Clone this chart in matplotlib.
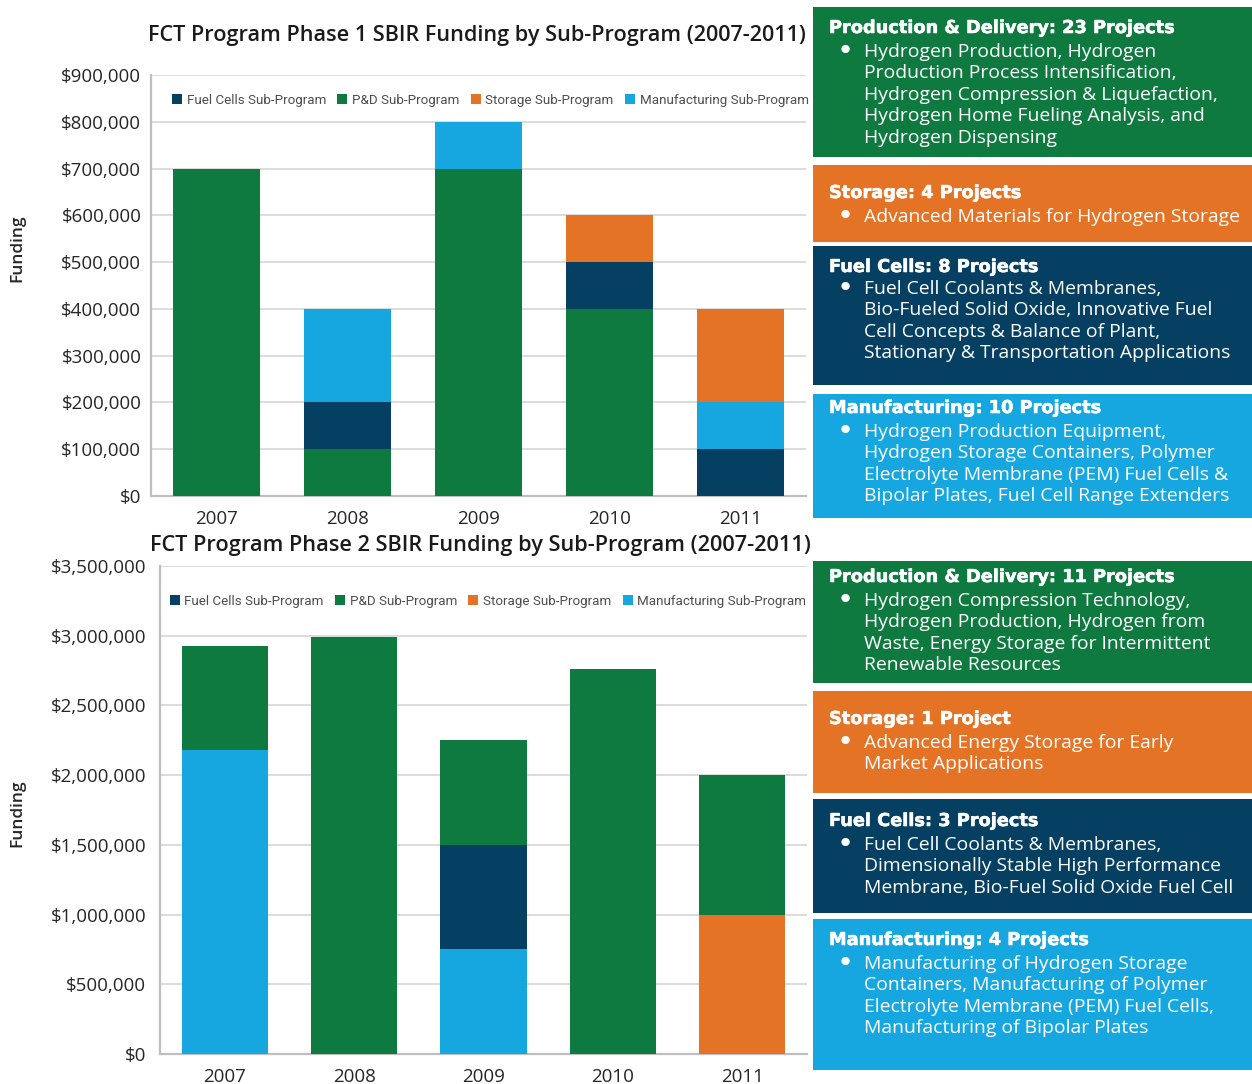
import matplotlib
matplotlib.use("Agg")
import matplotlib.pyplot as plt
import matplotlib.patheffects as pe
from matplotlib.patches import Rectangle, Patch
from matplotlib.ticker import FuncFormatter

# ---------------- data ----------------
years = ["2007", "2008", "2009", "2010", "2011"]

# Phase 1 funding ($) by sub-program
p1_pd = [700000, 100000, 700000, 400000, 0]
p1_fc = [0, 100000, 0, 100000, 100000]
p1_mfg = [0, 200000, 100000, 0, 100000]
p1_sto = [0, 0, 0, 100000, 200000]

# Phase 2 funding ($) by sub-program
p2_mfg = [2180000, 0, 750000, 0, 0]
p2_sto = [0, 0, 0, 0, 1000000]
p2_fc = [0, 0, 750000, 0, 0]
p2_pd = [745000, 2990000, 750000, 2760000, 1000000]

legend_labels = ["Fuel Cells Sub-Program", "P&D Sub-Program",
                 "Storage Sub-Program", "Manufacturing Sub-Program"]

titles = ["FCT Program Phase 1 SBIR Funding by Sub-Program (2007-2011)",
          "FCT Program Phase 2 SBIR Funding by Sub-Program (2007-2011)"]

p1_panels = [
    ("Production & Delivery: 23 Projects",
     ["Hydrogen Production, Hydrogen",
      "Production Process Intensification,",
      "Hydrogen Compression & Liquefaction,",
      "Hydrogen Home Fueling Analysis, and",
      "Hydrogen Dispensing"]),
    ("Storage: 4 Projects",
     ["Advanced Materials for Hydrogen Storage"]),
    ("Fuel Cells: 8 Projects",
     ["Fuel Cell Coolants & Membranes,",
      "Bio-Fueled Solid Oxide, Innovative Fuel",
      "Cell Concepts & Balance of Plant,",
      "Stationary & Transportation Applications"]),
    ("Manufacturing: 10 Projects",
     ["Hydrogen Production Equipment,",
      "Hydrogen Storage Containers, Polymer",
      "Electrolyte Membrane (PEM) Fuel Cells &",
      "Bipolar Plates, Fuel Cell Range Extenders"]),
]
p2_panels = [
    ("Production & Delivery: 11 Projects",
     ["Hydrogen Compression Technology,",
      "Hydrogen Production, Hydrogen from",
      "Waste, Energy Storage for Intermittent",
      "Renewable Resources"]),
    ("Storage: 1 Project",
     ["Advanced Energy Storage for Early",
      "Market Applications"]),
    ("Fuel Cells: 3 Projects",
     ["Fuel Cell Coolants & Membranes,",
      "Dimensionally Stable High Performance",
      "Membrane, Bio-Fuel Solid Oxide Fuel Cell"]),
    ("Manufacturing: 4 Projects",
     ["Manufacturing of Hydrogen Storage",
      "Containers, Manufacturing of Polymer",
      "Electrolyte Membrane (PEM) Fuel Cells,",
      "Manufacturing of Bipolar Plates"]),
]

# ---------------- style ----------------
GREEN = "#0E7A40"
ORANGE = "#E47326"
NAVY = "#053F62"
BLUE = "#17A7E0"
GRID = "#D9D9D9"
SPINE = "#BFBFBF"
TXT = "#262626"

W, H = 1252, 1084
fig = plt.figure(figsize=(W / 100, H / 100), dpi=100)
fig.patch.set_facecolor("white")
renderer = fig.canvas.get_renderer()

BODY_FONT = ["Open Sans", "DejaVu Sans"]
HEAD_FONT = ["DejaVu Sans"]
AX_FONT = ["Open Sans", "DejaVu Sans"]
LEG_FONT = ["Roboto", "DejaVu Sans"]


def fx(px):
    return px / W


def fy(py):
    return 1 - py / H


def fit_size(text, family, weight, target_px, base=12.0):
    t = fig.text(0, 0, text, fontsize=base, family=family, weight=weight)
    w = t.get_window_extent(renderer).width
    t.remove()
    return base * target_px / w


def dollars(v, _):
    return "${:,.0f}".format(v)


def make_axes(box, ymax, step, ypad):
    left, right, top, bottom = box
    ax = fig.add_axes([fx(left), fy(bottom), fx(right - left), (bottom - top) / H])
    ax.set_xlim(-0.5, len(years) - 0.5)
    ax.set_ylim(0, ymax)
    ax.set_yticks(range(0, ymax + 1, step))
    ax.yaxis.set_major_formatter(FuncFormatter(dollars))
    ax.grid(axis="y", color=GRID, linewidth=1.3)
    ax.set_axisbelow(True)
    for s in ("top", "right"):
        ax.spines[s].set_visible(False)
    for s in ("left", "bottom"):
        ax.spines[s].set_color(SPINE)
        ax.spines[s].set_linewidth(1.6)
    ax.tick_params(axis="both", length=0, labelsize=13.5, colors=TXT)
    ax.tick_params(axis="y", pad=ypad)
    ax.tick_params(axis="x", pad=10)
    for lab in ax.get_yticklabels() + ax.get_xticklabels():
        lab.set_family(AX_FONT)
    ax.set_xticks(range(len(years)))
    ax.set_xticklabels(years, family=AX_FONT)
    return ax


def stacked(ax, series, width):
    bottom = [0] * len(years)
    for vals, color in series:
        ax.bar(range(len(years)), vals, width=width, bottom=bottom,
               color=color, linewidth=0, zorder=3)
        bottom = [b + v for b, v in zip(bottom, vals)]


def add_legend(ax, xc, yc):
    handles = [Patch(facecolor=c, edgecolor="none") for c in (NAVY, GREEN, ORANGE, BLUE)]
    leg = ax.legend(handles, legend_labels, loc="center", bbox_to_anchor=(xc, yc),
                    ncol=4, frameon=False, handlelength=0.75, handleheight=0.75,
                    handletextpad=0.35, columnspacing=0.85,
                    prop={"family": LEG_FONT, "size": 9.6})
    for t in leg.get_texts():
        t.set_color("#4D4D4D")
    return leg


# ---------------- phase 1 chart ----------------
ax1 = make_axes((151, 806, 75, 496), 900000, 100000, 7)
stacked(ax1, [(p1_pd, GREEN), (p1_fc, NAVY), (p1_mfg, BLUE), (p1_sto, ORANGE)], 0.66)
add_legend(ax1, 0.518, 0.94)

# ---------------- phase 2 chart ----------------
ax2 = make_axes((160, 807, 566, 1054), 3500000, 500000, 10)
stacked(ax2, [(p2_mfg, BLUE), (p2_sto, ORANGE), (p2_fc, NAVY), (p2_pd, GREEN)], 0.665)
add_legend(ax2, 0.507, 0.928)

# axis titles
for yc in (248, 813):
    fig.text(fx(17), fy(yc), "Funding", rotation=90, ha="center", va="center",
             fontsize=12.5, weight="semibold", family=AX_FONT, color=TXT)

# chart titles
for title, (x0, x1, yc) in zip(titles, [(148, 806, 35), (150, 813, 546)]):
    size = fit_size(title, AX_FONT, "semibold", x1 - x0)
    fig.text(fx(x0), fy(yc), title, ha="left", va="center", fontsize=size,
             weight="semibold", family=AX_FONT, color="#1A1A1A")

# ---------------- side panels ----------------
head_size = fit_size("Production & Delivery: 23 Projects", HEAD_FONT, "bold", 345)
body_size = fit_size("Advanced Materials for Hydrogen Storage", BODY_FONT, "normal", 374)
heavy = [pe.withStroke(linewidth=0.4, foreground="white")]

panel_colors = [GREEN, ORANGE, NAVY, BLUE]
# (top, bottom, header y, first line y) in pixels
p1_geom = [(7, 157, 28, 52), (165, 242, 193, 217), (246, 385, 267, 289), (394, 518, 408, 432)]
p2_geom = [(561, 683, 577, 601), (691, 793, 719, 743), (799, 913, 821, 845), (919, 1070, 940, 964)]
LINE = 21.4
PX0, PX1 = 813, 1252

for panels, geom in ((p1_panels, p1_geom), (p2_panels, p2_geom)):
    for (head, lines), (top, bot, hy, ly), col in zip(panels, geom, panel_colors):
        fig.patches.append(Rectangle((fx(PX0), fy(bot)), fx(PX1 - PX0), (bot - top) / H,
                                     transform=fig.transFigure, facecolor=col,
                                     edgecolor="none", zorder=0))
        fig.text(fx(829), fy(hy), head, ha="left", va="center", fontsize=head_size,
                 weight="bold", family=HEAD_FONT, color="white", path_effects=heavy)
        fig.text(fx(845), fy(ly - 1), "\u2022", ha="center", va="center",
                 fontsize=body_size * 1.5, family=["DejaVu Sans"], color="white")
        for i, line in enumerate(lines):
            fig.text(fx(864), fy(ly + i * LINE), line, ha="left", va="center",
                     fontsize=body_size, family=BODY_FONT, color="white")

fig.savefig("out.png", dpi=100, facecolor="white")
